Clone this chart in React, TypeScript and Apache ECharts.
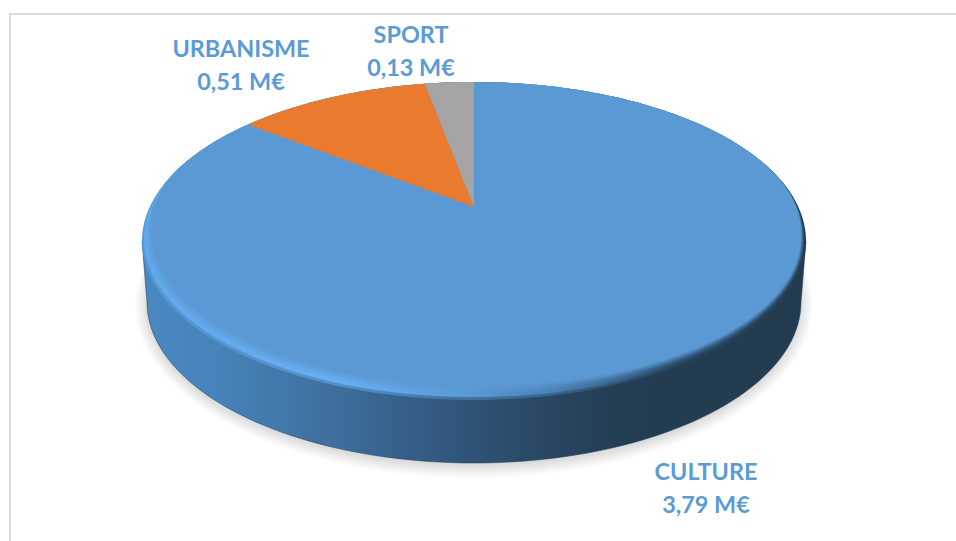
import React, { useEffect, useRef } from "react";
import * as echarts from "echarts";

const categories = ["CULTURE", "URBANISME", "SPORT"];
const values = [3.79, 0.51, 0.13];
const valueLabels = ["3,79 M€", "0,51 M€", "0,13 M€"];
const sliceColors = ["#5b99d4", "#ea7a2d", "#a5a5a5"];
const labelColor = "#5b9bd5";
const labelCenters = [
  [706, 471],
  [241, 48],
  [411, 34],
];

const total = values.reduce((a, b) => a + b, 0);
const starts = values.map((_, i) => values.slice(0, i).reduce((a, b) => a + b, 0));

// Perspective projection of the unit disc onto the screen
const APEX_X = 474;
const APEX_Y = 207;
const TILT = 0.2138;
const SCALE_Y = 151.7;
const SCALE_X = 332 * Math.sqrt(1 - TILT * TILT);
const project = (u: number, v: number) => {
  const w = 1 + TILT * v;
  return [APEX_X + (SCALE_X * u) / w, APEX_Y - (SCALE_Y * v) / w];
};
// Rim point at a clock angle; inset e narrows the disc only along its lower edge (the bevel)
const rimPoint = (deg: number, e: number) => {
  const a = (deg * Math.PI) / 180;
  const u = Math.sin(a);
  const v = Math.cos(a);
  const k = Math.min(1, Math.max(0, (0.35 - v) / 0.6));
  const smooth = k * k * (3 - 2 * k);
  const across = 0.4 + 0.6 * Math.abs(Math.min(0, v));
  const side = 1 - 0.55 * Math.max(0, u);
  const t = 1 - e * smooth * across * side;
  return project(t * u, t * v);
};
const discPoints = (e: number) => {
  const pts: number[][] = [];
  for (let d = 0; d < 360; d += 1) pts.push(rimPoint(d, e));
  return pts;
};
const FACE_INSET = 0.06;
const FADE_STEPS = [
  [0.022, 0.15],
  [0.032, 0.25],
  [0.042, 0.4],
  [0.052, 0.6],
];
const SHADOW_GROWTH = [14, 12, 10.5, 9, 7.5, 6, 4.5, 3, 1.5];

const LEFT = 142;
const RIGHT = 806;
const WIDEST_Y = 241;
const BOTTOM_CX = 474;
const BOTTOM_CY = 302;
const BOTTOM_RX = 327;
const BOTTOM_RY = 161;

const sideGradient = () =>
  new echarts.graphic.LinearGradient(0, 0, 1, 0, [
    { offset: 0, color: "#4a88c2" },
    { offset: 0.1, color: "#4784bc" },
    { offset: 0.28, color: "#3f709e" },
    { offset: 0.42, color: "#345c84" },
    { offset: 0.58, color: "#2a4a68" },
    { offset: 0.72, color: "#233d52" },
    { offset: 1, color: "#233b4f" },
  ]);
const rimGradient = () =>
  new echarts.graphic.LinearGradient(0, 0, 1, 0, [
    { offset: 0, color: "#62a9ec" },
    { offset: 0.3, color: "#68b0f5" },
    { offset: 0.48, color: "#5a9cd9" },
    { offset: 0.62, color: "#4a80b3" },
    { offset: 0.8, color: "#2a4a66" },
    { offset: 1, color: "#233d52" },
  ]);
const rimBaseGradient = () =>
  new echarts.graphic.LinearGradient(0, 0, 1, 0, [
    { offset: 0, color: "#5698d6" },
    { offset: 0.3, color: "#5490ca" },
    { offset: 0.48, color: "#4272a0" },
    { offset: 0.62, color: "#38638c" },
    { offset: 0.8, color: "#26435c" },
    { offset: 1, color: "#233d52" },
  ]);

const renderBody = () => {
  const side: number[][] = [[LEFT, WIDEST_Y]];
  for (let d = 180; d >= 0; d -= 2) {
    const a = (d * Math.PI) / 180;
    side.push([BOTTOM_CX + BOTTOM_RX * Math.cos(a), BOTTOM_CY + BOTTOM_RY * Math.sin(a)]);
  }
  side.push([RIGHT, WIDEST_Y]);
  return {
    type: "group",
    children: [
      ...SHADOW_GROWTH.map((g) => ({
        type: "ellipse",
        shape: { cx: BOTTOM_CX, cy: BOTTOM_CY + 3, rx: BOTTOM_RX + g - 2, ry: BOTTOM_RY + g - 2 },
        style: { fill: "#000000", opacity: 0.017 },
      })),
      {
        type: "polygon",
        shape: { points: side },
        style: { fill: sideGradient(), stroke: "rgba(32,60,88,0.55)", lineWidth: 1 },
      },
      { type: "polygon", shape: { points: discPoints(0) }, style: { fill: rimBaseGradient() } },
      { type: "polygon", shape: { points: discPoints(0.012) }, style: { fill: rimGradient() } },
      ...FADE_STEPS.map(([e, opacity]) => ({
        type: "polygon",
        shape: { points: discPoints(e) },
        style: { fill: sliceColors[0], opacity },
      })),
    ],
  };
};

const renderSlice = (_: any, api: any) => {
  const start = (api.value(0) / total) * 360;
  const sweep = (api.value(1) / total) * 360;
  const i = api.value(2);
  const points: number[][] = [[APEX_X, APEX_Y]];
  const n = Math.max(2, Math.ceil(sweep));
  for (let k = 0; k <= n; k++) {
    const deg = start + (sweep * k) / n;
    points.push(rimPoint(deg, FACE_INSET));
  }
  const font = { fontFamily: "Lato", fontWeight: "bold", fontSize: 23.4, fill: labelColor, align: "center", verticalAlign: "middle" };
  return {
    type: "group",
    children: [
      { type: "polygon", shape: { points }, style: { fill: sliceColors[i] } },
      { type: "text", x: labelCenters[i][0], y: labelCenters[i][1], style: { ...font, text: categories[i] } },
      { type: "text", x: labelCenters[i][0], y: labelCenters[i][1] + 33, style: { ...font, text: valueLabels[i] } },
    ],
  };
};

export default function App() {
  const ref = useRef<HTMLDivElement>(null);
  useEffect(() => {
    document.body.style.margin = "0";
    const chart = echarts.init(ref.current!, undefined, { renderer: "svg" });
    chart.setOption({
      animation: false,
      backgroundColor: "#ffffff",
      graphic: [
        { type: "rect", shape: { x: 9, y: 13, width: 947, height: 2 }, style: { fill: "#d9d9d9" }, silent: true },
        { type: "rect", shape: { x: 9, y: 13, width: 2, height: 528 }, style: { fill: "#d9d9d9" }, silent: true },
      ],
      series: [
        {
          type: "custom",
          coordinateSystem: "none",
          silent: true,
          z: 1,
          data: [[total]],
          renderItem: renderBody,
        },
        {
          type: "custom",
          coordinateSystem: "none",
          silent: true,
          z: 2,
          data: values.map((v, i) => [starts[i], v, i]),
          renderItem: renderSlice,
        },
      ],
    });
    return () => chart.dispose();
  }, []);
  return <div ref={ref} style={{ width: 956, height: 541 }} />;
}
